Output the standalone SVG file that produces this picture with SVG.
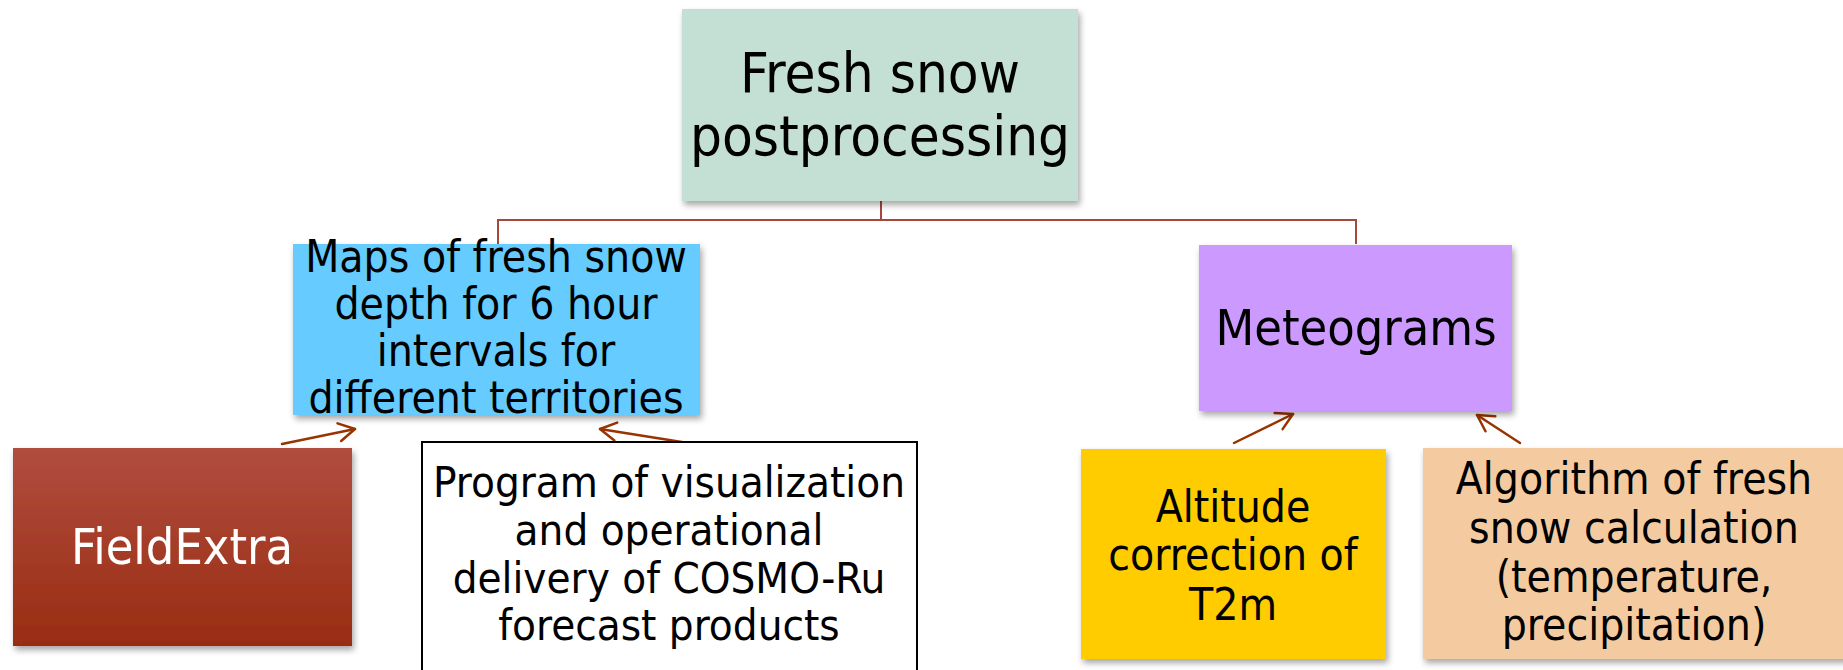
<svg xmlns="http://www.w3.org/2000/svg" width="1843" height="670" viewBox="0 0 1843 670">
  <style>
    .lbl { font-family: "DejaVu Sans Condensed", "DejaVu Sans", "Liberation Sans", sans-serif; fill: #000; text-anchor: middle; }
    .tree { fill: none; stroke: #a5483b; stroke-width: 2; }
    .flow { fill: none; stroke: #993300; stroke-width: 2.5; stroke-linecap: round; }
  </style>
  <defs>
    <filter id="shadow" x="-10%" y="-10%" width="120%" height="130%">
      <feDropShadow dx="2" dy="4" stdDeviation="3" flood-color="#000" flood-opacity="0.35"/>
    </filter>
    <linearGradient id="redGrad" x1="0" y1="0" x2="0" y2="1">
      <stop offset="0" stop-color="#b04d3f"/>
      <stop offset="1" stop-color="#992c11"/>
    </linearGradient>
    <marker id="openHead" markerUnits="userSpaceOnUse" markerWidth="24" markerHeight="24" refX="20" refY="11" orient="auto">
      <path d="M4,2 L20,11 L4,20" fill="none" stroke="#993300" stroke-width="2.5" stroke-linecap="round" stroke-linejoin="round"/>
    </marker>
  </defs>

  <!-- hierarchy lines and input arrows -->
  <g id="connectors">
    <path class="tree" d="M881,201 V220 M498,244 V220 H1356 V244"/>
    <line class="flow" x1="282" y1="444" x2="355" y2="429" marker-end="url(#openHead)"/>
    <line class="flow" x1="688" y1="443" x2="600" y2="429" marker-end="url(#openHead)"/>
    <line class="flow" x1="1234" y1="443" x2="1293" y2="414" marker-end="url(#openHead)"/>
    <line class="flow" x1="1520" y1="443" x2="1477" y2="415" marker-end="url(#openHead)"/>
  </g>

  <g id="root">
    <rect x="682" y="9" width="396" height="192" fill="#c4dfd4" filter="url(#shadow)"/>
    <text class="lbl" font-size="56" x="880" y="92">Fresh snow</text>
    <text class="lbl" font-size="56" x="880" y="155">postprocessing</text>
  </g>

  <g id="maps">
    <rect x="293" y="244" width="407" height="171" fill="#66ccff" filter="url(#shadow)"/>
    <text class="lbl" font-size="44" x="496" y="272">Maps of fresh snow</text>
    <text class="lbl" font-size="44" x="496" y="319">depth for 6 hour</text>
    <text class="lbl" font-size="44" x="496" y="366">intervals for</text>
    <text class="lbl" font-size="44" x="496" y="413">different territories</text>
  </g>

  <g id="meteograms">
    <rect x="1199" y="245" width="313" height="166" fill="#cc99ff" filter="url(#shadow)"/>
    <text class="lbl" font-size="50" x="1356" y="345">Meteograms</text>
  </g>

  <g id="fieldextra">
    <rect x="13" y="448" width="339" height="198" fill="url(#redGrad)" filter="url(#shadow)"/>
    <text class="lbl" font-size="50" x="182" y="564" style="fill:#fff">FieldExtra</text>
  </g>

  <g id="program">
    <rect x="422" y="442" width="495" height="240" fill="#fff" stroke="#000" stroke-width="2"/>
    <text class="lbl" font-size="43.5" x="669" y="497">Program of visualization</text>
    <text class="lbl" font-size="43.5" x="669" y="545">and operational</text>
    <text class="lbl" font-size="43.5" x="669" y="593">delivery of COSMO-Ru</text>
    <text class="lbl" font-size="43.5" x="669" y="640">forecast products</text>
  </g>

  <g id="altitude">
    <rect x="1081" y="449" width="305" height="210" fill="#ffcc00" filter="url(#shadow)"/>
    <text class="lbl" font-size="44" x="1233" y="522">Altitude</text>
    <text class="lbl" font-size="44" x="1233" y="570">correction of</text>
    <text class="lbl" font-size="44" x="1233" y="620">T2m</text>
  </g>

  <g id="algorithm">
    <rect x="1423" y="448" width="425" height="211" fill="#f4cba0" filter="url(#shadow)"/>
    <text class="lbl" font-size="44" x="1634" y="494">Algorithm of fresh</text>
    <text class="lbl" font-size="44" x="1634" y="543">snow calculation</text>
    <text class="lbl" font-size="44" x="1634" y="592">(temperature,</text>
    <text class="lbl" font-size="44" x="1634" y="640">precipitation)</text>
  </g>
</svg>
